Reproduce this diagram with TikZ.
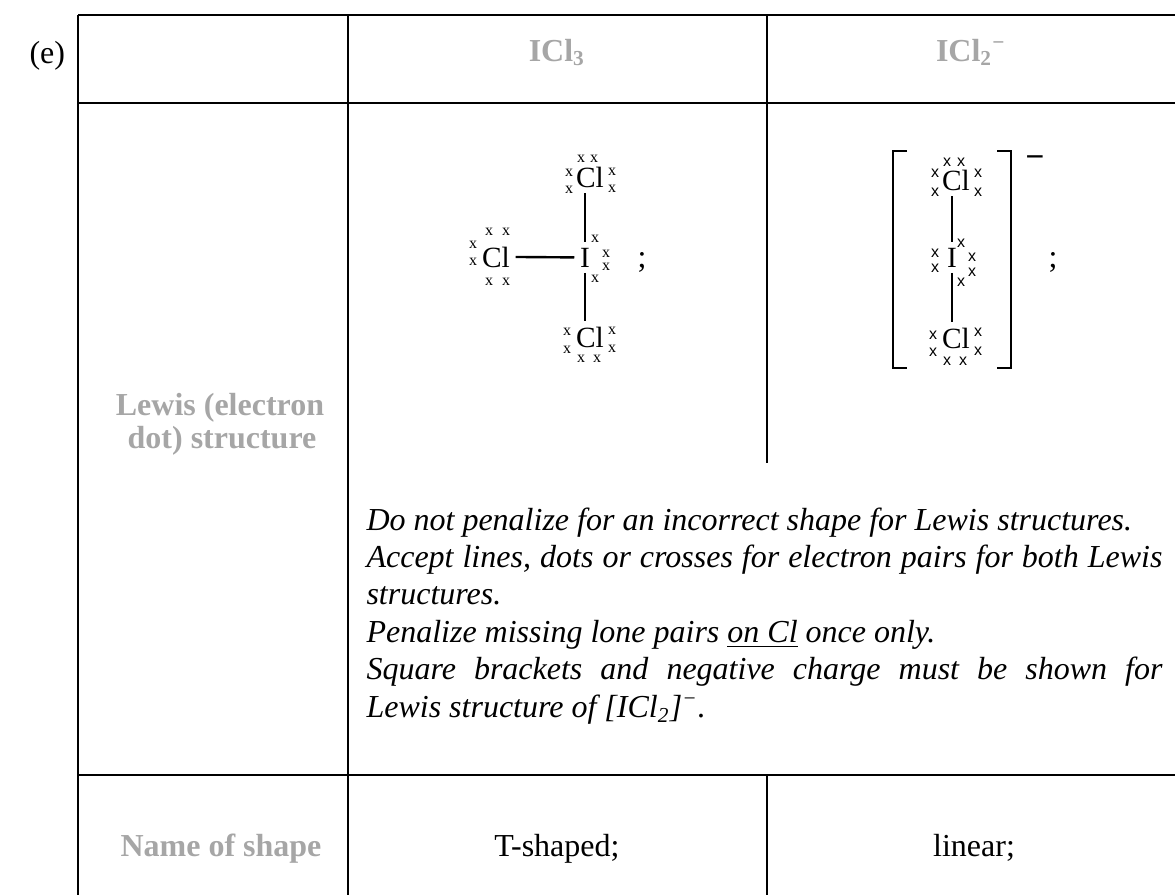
\documentclass[tikz,border=0pt]{standalone}
\usepackage{fontspec}
\setmainfont{Liberation Serif}
\newfontfamily\crossfont{Liberation Sans}
\definecolor{lblgray}{RGB}{166,166,166}
\begin{document}
\begin{tikzpicture}[x=0.375pt,y=-0.375pt,
  tbl/.style={line width=1.1pt},
  bond/.style={line width=0.9pt},
  brk/.style={line width=1pt},
  atom/.style={inner sep=0pt,outer sep=2.2pt,anchor=base,font=\fontsize{11}{13}\selectfont},
  crA/.style={inner sep=0pt,font=\fontsize{6}{7}\selectfont},
  crB/.style={inner sep=0pt,font=\crossfont\fontsize{6}{7}\selectfont},
  hdr/.style={inner sep=0pt,anchor=base,text=lblgray,font=\bfseries\fontsize{12}{14}\selectfont},
  cell/.style={inner sep=0pt,anchor=base,font=\fontsize{12}{14}\selectfont},
]
\useasboundingbox (0,0) rectangle (1175,894);

% table rules
\draw[tbl] (78,15) -- (1180,15);
\draw[tbl] (78,103) -- (1180,103);
\draw[tbl] (78,775) -- (1180,775);
\draw[tbl] (78,15) -- (78,900);
\draw[tbl] (348,15) -- (348,900);
\draw[tbl] (767,15) -- (767,463);
\draw[tbl] (767,775) -- (767,900);

% labels
\node[cell,anchor=base west] (qe) at (29,63) {(e)};
\node[hdr] (h1) at (557,61) {ICl\textsubscript{3}};
\node[hdr] (h2) at (971,61) {ICl\textsubscript{2}\textsuperscript{−}};
\node[hdr] (l1a) at (220,415) {Lewis (electron};
\node[hdr] (l1b) at (222,448) {dot) structure};
\node[hdr] (l2) at (221,856) {Name of shape};
\node[cell] (s1) at (557,856) {T-shaped;};
\node[cell] (s2) at (974,856) {linear;};

% ICl3
\node[atom] (clT) at (590,187) {Cl};
\node[atom] (iA) at (585,267) {I};
\node[atom] (clL) at (496,267) {Cl};
\node[atom] (clB) at (590,347) {Cl};
\draw[bond] (iA.north |- clT.south) -- (iA.north);
\draw[bond] (clL.east) -- (iA.west);
\draw[bond] (iA.south) -- (iA.south |- clB.north);
\foreach \px/\py [count=\i] in {581/159,594/159,569/173,569/190,612/172,612/189,
  489/232,506/232,489/282,506/282,473/245,473/262,
  595/239,606/254,606/267,595/279,
  567/332,567/350,612/331,612/349,581/359,597/359}
  \node[crA] (ca\i) at (\px,\py) {x};
\node[cell] (semiA) at (642,267) {;};

% ICl2-
\node[atom] (clT2) at (956,190) {Cl};
\node[atom] (iB) at (952,267) {I};
\node[atom] (clB2) at (956,348) {Cl};
\draw[bond] (iB.north |- clT2.south) -- (iB.north);
\draw[bond] (iB.south) -- (iB.south |- clB2.north);
\foreach \px/\py [count=\i] in {947/162,961/162,935/173,935/192,978/173,978/192,
  935/253,935/268,961/243,972/257,972/272,961/282,
  933/335,933/352,978/332,978/351,947/361,963/361}
  \node[crB] (cb\i) at (\px,\py) {x};
\draw[brk] (907,151) -- (893,151) -- (893,368) -- (907,368);
\draw[brk] (997,151) -- (1011,151) -- (1011,368) -- (997,368);
\node[inner sep=0pt,font=\crossfont\fontsize{12}{14}\selectfont] (chg) at (1035,162) {−};
\node[cell] (semiB) at (1053,267) {;};

% notes
\node[anchor=base west,inner sep=0pt,text width=298.5pt,align=justify,
  font=\itshape\fontsize{12}{14.06}\selectfont] (notes) at (366,530)
{Do not penalize for an incorrect shape for Lewis structures.\par
\hbox to\linewidth{Accept lines, dots or crosses for electron pairs for both Lewis}
structures.\par
Penalize missing lone pairs \underline{on Cl} once only.\par
\hbox to\linewidth{Square brackets and negative charge must be shown for}
Lewis structure of [ICl\textsubscript{2}]\textsuperscript{−}.\par};
\end{tikzpicture}
\end{document}
